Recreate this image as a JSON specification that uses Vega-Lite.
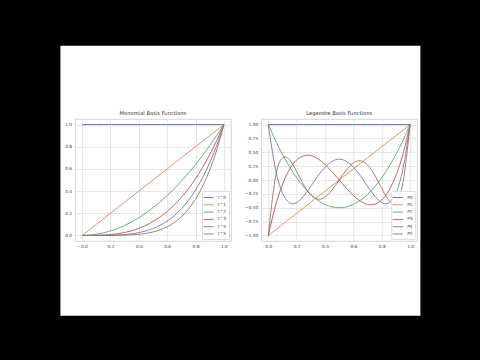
{
  "$schema": "https://vega.github.io/schema/vega-lite/v6.json",
  "background": "black",
  "padding": {"left": 60, "top": 45, "right": 60, "bottom": 45},
  "autosize": {"type": "pad"},
  "bounds": "flush",
  "spacing": 10,
  "datasets": {
    "mono": [
      {"t": 0, "t^0": 1, "t^1": 0, "t^2": 0, "t^3": 0, "t^4": 0, "t^5": 0},
      {"t": 0.05, "t^0": 1, "t^1": 0.05, "t^2": 0.0025, "t^3": 0.000125, "t^4": 0.0000063, "t^5": 0.0000003},
      {"t": 0.1, "t^0": 1, "t^1": 0.1, "t^2": 0.01, "t^3": 0.001, "t^4": 0.0001, "t^5": 0.00001},
      {"t": 0.15, "t^0": 1, "t^1": 0.15, "t^2": 0.0225, "t^3": 0.003375, "t^4": 0.000506, "t^5": 0.0000759},
      {"t": 0.2, "t^0": 1, "t^1": 0.2, "t^2": 0.04, "t^3": 0.008, "t^4": 0.0016, "t^5": 0.00032},
      {"t": 0.25, "t^0": 1, "t^1": 0.25, "t^2": 0.0625, "t^3": 0.015625, "t^4": 0.003906, "t^5": 0.000977},
      {"t": 0.3, "t^0": 1, "t^1": 0.3, "t^2": 0.09, "t^3": 0.027, "t^4": 0.0081, "t^5": 0.00243},
      {"t": 0.35, "t^0": 1, "t^1": 0.35, "t^2": 0.1225, "t^3": 0.042875, "t^4": 0.015006, "t^5": 0.005252},
      {"t": 0.4, "t^0": 1, "t^1": 0.4, "t^2": 0.16, "t^3": 0.064, "t^4": 0.0256, "t^5": 0.01024},
      {"t": 0.45, "t^0": 1, "t^1": 0.45, "t^2": 0.2025, "t^3": 0.091125, "t^4": 0.041006, "t^5": 0.018453},
      {"t": 0.5, "t^0": 1, "t^1": 0.5, "t^2": 0.25, "t^3": 0.125, "t^4": 0.0625, "t^5": 0.03125},
      {"t": 0.55, "t^0": 1, "t^1": 0.55, "t^2": 0.3025, "t^3": 0.166375, "t^4": 0.091506, "t^5": 0.050328},
      {"t": 0.6, "t^0": 1, "t^1": 0.6, "t^2": 0.36, "t^3": 0.216, "t^4": 0.1296, "t^5": 0.07776},
      {"t": 0.65, "t^0": 1, "t^1": 0.65, "t^2": 0.4225, "t^3": 0.274625, "t^4": 0.178506, "t^5": 0.116029},
      {"t": 0.7, "t^0": 1, "t^1": 0.7, "t^2": 0.49, "t^3": 0.343, "t^4": 0.2401, "t^5": 0.16807},
      {"t": 0.75, "t^0": 1, "t^1": 0.75, "t^2": 0.5625, "t^3": 0.421875, "t^4": 0.316406, "t^5": 0.237305},
      {"t": 0.8, "t^0": 1, "t^1": 0.8, "t^2": 0.64, "t^3": 0.512, "t^4": 0.4096, "t^5": 0.32768},
      {"t": 0.85, "t^0": 1, "t^1": 0.85, "t^2": 0.7225, "t^3": 0.614125, "t^4": 0.522006, "t^5": 0.443705},
      {"t": 0.9, "t^0": 1, "t^1": 0.9, "t^2": 0.81, "t^3": 0.729, "t^4": 0.6561, "t^5": 0.59049},
      {"t": 0.95, "t^0": 1, "t^1": 0.95, "t^2": 0.9025, "t^3": 0.857375, "t^4": 0.814506, "t^5": 0.773781},
      {"t": 1, "t^0": 1, "t^1": 1, "t^2": 1, "t^3": 1, "t^4": 1, "t^5": 1}
    ],
    "leg": [
      {"x": 0, "P0": 1, "P1": -1, "P2": 1, "P3": -1, "P4": 1, "P5": -1},
      {"x": 0.05, "P0": 1, "P1": -0.9, "P2": 0.715, "P3": -0.4725, "P4": 0.2079, "P5": 0.0411},
      {"x": 0.1, "P0": 1, "P1": -0.8, "P2": 0.46, "P3": -0.08, "P4": -0.233, "P5": 0.3995},
      {"x": 0.15, "P0": 1, "P1": -0.7, "P2": 0.235, "P3": 0.1925, "P4": -0.4121, "P5": 0.3652},
      {"x": 0.2, "P0": 1, "P1": -0.6, "P2": 0.04, "P3": 0.36, "P4": -0.408, "P5": 0.1526},
      {"x": 0.25, "P0": 1, "P1": -0.5, "P2": -0.125, "P3": 0.4375, "P4": -0.2891, "P5": -0.0898},
      {"x": 0.3, "P0": 1, "P1": -0.4, "P2": -0.26, "P3": 0.44, "P4": -0.113, "P5": -0.2706},
      {"x": 0.35, "P0": 1, "P1": -0.3, "P2": -0.365, "P3": 0.3825, "P4": 0.0729, "P5": -0.3454},
      {"x": 0.4, "P0": 1, "P1": -0.2, "P2": -0.44, "P3": 0.28, "P4": 0.232, "P5": -0.3075},
      {"x": 0.45, "P0": 1, "P1": -0.1, "P2": -0.485, "P3": 0.1475, "P4": 0.3379, "P5": -0.1788},
      {"x": 0.5, "P0": 1, "P1": 0, "P2": -0.5, "P3": 0, "P4": 0.375, "P5": 0},
      {"x": 0.55, "P0": 1, "P1": 0.1, "P2": -0.485, "P3": -0.1475, "P4": 0.3379, "P5": 0.1788},
      {"x": 0.6, "P0": 1, "P1": 0.2, "P2": -0.44, "P3": -0.28, "P4": 0.232, "P5": 0.3075},
      {"x": 0.65, "P0": 1, "P1": 0.3, "P2": -0.365, "P3": -0.3825, "P4": 0.0729, "P5": 0.3454},
      {"x": 0.7, "P0": 1, "P1": 0.4, "P2": -0.26, "P3": -0.44, "P4": -0.113, "P5": 0.2706},
      {"x": 0.75, "P0": 1, "P1": 0.5, "P2": -0.125, "P3": -0.4375, "P4": -0.2891, "P5": 0.0898},
      {"x": 0.8, "P0": 1, "P1": 0.6, "P2": 0.04, "P3": -0.36, "P4": -0.408, "P5": -0.1526},
      {"x": 0.85, "P0": 1, "P1": 0.7, "P2": 0.235, "P3": -0.1925, "P4": -0.4121, "P5": -0.3652},
      {"x": 0.9, "P0": 1, "P1": 0.8, "P2": 0.46, "P3": 0.08, "P4": -0.233, "P5": -0.3995},
      {"x": 0.95, "P0": 1, "P1": 0.9, "P2": 0.715, "P3": 0.4725, "P4": 0.2079, "P5": -0.0411},
      {"x": 1, "P0": 1, "P1": 1, "P2": 1, "P3": 1, "P4": 1, "P5": 1}
    ]
  },
  "vconcat": [
    {
      "width": 156,
      "height": 10,
      "view": {"stroke": null},
      "data": {"values": [{}]},
      "mark": {"type": "rect", "fill": "white", "clip": false},
      "encoding": {
        "x": {"datum": -0.1529, "type": "quantitative", "scale": {"domain": [-0.05, 1.05], "nice": false, "zero": false}, "axis": null},
        "x2": {"datum": 2.3855},
        "y": {"datum": 6.32, "type": "quantitative", "scale": {"domain": [0, 1], "nice": false, "zero": false}, "axis": null},
        "y2": {"datum": -20.68}
      }
    },
    {
      "bounds": "flush",
      "spacing": 30.2,
      "hconcat": [
        {
          "width": 156,
          "height": 122,
          "title": {"text": "Monomial Basis Functions"},
          "data": {"name": "mono"},
          "transform": [{"fold": ["t^0", "t^1", "t^2", "t^3", "t^4", "t^5"], "as": ["series", "value"]}],
          "mark": {"type": "line", "strokeWidth": 0.9, "interpolate": "monotone"},
          "encoding": {
            "x": {"field": "t", "type": "quantitative", "scale": {"domain": [-0.05, 1.05], "nice": false, "zero": false},
              "axis": {"title": null, "values": [0, 0.2, 0.4, 0.6, 0.8, 1], "labelExpr": "datum.value == 0 ? '\u22120.0' : format(datum.value, '.1f')"}},
            "y": {"field": "value", "type": "quantitative", "scale": {"domain": [-0.05, 1.05], "nice": false, "zero": false},
              "axis": {"title": null, "values": [0, 0.2, 0.4, 0.6, 0.8, 1], "format": ".1f"}},
            "color": {"field": "series", "type": "nominal",
              "scale": {"domain": ["t^0", "t^1", "t^2", "t^3", "t^4", "t^5"], "range": ["#4c72b0", "#dd8452", "#55a868", "#c44e52", "#8172b3", "#937860"]},
              "legend": {"title": null}}
          }
        },
        {
          "width": 156,
          "height": 122,
          "title": {"text": "Legendre Basis Functions"},
          "data": {"name": "leg"},
          "transform": [{"fold": ["P0", "P1", "P2", "P3", "P4", "P5"], "as": ["series", "value"]}],
          "mark": {"type": "line", "strokeWidth": 0.9, "interpolate": "natural"},
          "encoding": {
            "x": {"field": "x", "type": "quantitative", "scale": {"domain": [-0.05, 1.05], "nice": false, "zero": false},
              "axis": {"title": null, "values": [0, 0.2, 0.4, 0.6, 0.8, 1], "format": ".1f"}},
            "y": {"field": "value", "type": "quantitative", "scale": {"domain": [-1.1, 1.1], "nice": false, "zero": false},
              "axis": {"title": null, "values": [-1, -0.75, -0.5, -0.25, 0, 0.25, 0.5, 0.75, 1], "format": ".2f"}},
            "color": {"field": "series", "type": "nominal",
              "scale": {"domain": ["P0", "P1", "P2", "P3", "P4", "P5"], "range": ["#4c72b0", "#dd8452", "#55a868", "#c44e52", "#8172b3", "#937860"]},
              "legend": {"title": null}}
          }
        }
      ],
      "resolve": {
        "scale": {"color": "independent", "x": "independent", "y": "independent"},
        "legend": {"color": "independent"}
      }
    }
  ],
  "resolve": {
    "scale": {"x": "independent", "y": "independent"}
  },
  "config": {
    "view": {"stroke": "#cccccc", "strokeWidth": 0.8},
    "title": {"font": "DejaVu Sans", "fontSize": 5.2, "fontWeight": "normal", "color": "#333333", "offset": 2.5, "anchor": "middle"},
    "axis": {
      "domain": false, "ticks": false, "tickSize": 0,
      "labelFont": "DejaVu Sans", "labelFontSize": 4.3, "labelColor": "#3a3a3a",
      "labelPadding": 3.5, "labelFlush": false, "labelOverlap": false, "labelBound": false,
      "gridColor": "#dcdcdc", "gridWidth": 0.7
    },
    "legend": {
      "orient": "bottom-right", "offset": 2.5, "padding": 2.5,
      "fillColor": "rgba(255,255,255,0.85)", "strokeColor": "#dddddd", "cornerRadius": 1,
      "labelFont": "DejaVu Sans", "labelFontSize": 4.3, "labelColor": "#3a3a3a",
      "symbolType": "M-1.45,0H1.45", "symbolSize": 49, "symbolStrokeWidth": 0.9,
      "rowPadding": 0.3, "labelOffset": 5.5
    }
  }
}
